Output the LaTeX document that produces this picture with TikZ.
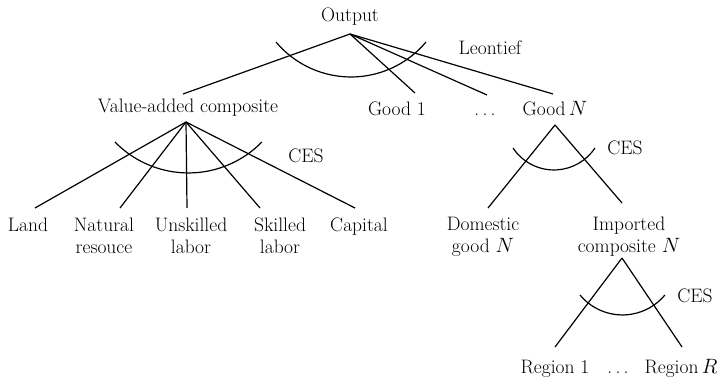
\documentclass[tikz,border=0pt]{standalone}
\begin{document}
\begin{tikzpicture}[x=1pt,y=-1pt,line width=1.2pt,
  lbl/.style={inner sep=0pt,anchor=base,font=\fontsize{19.5}{22}\selectfont},
  ml/.style={lbl,align=center}]
\useasboundingbox (0,0) rectangle (722,379);
% labels
\node[lbl] (out) at (350,22) {Output};
\node[lbl] (leo) at (490,55) {Leontief};
\node[lbl] (va) at (188,113) {Value-added composite};
\node[lbl] (g1) at (397,116) {Good 1};
\node[lbl] (gd) at (485,116) {.\,.\,.};
\node[lbl] (gn) at (555,116) {Good\,$N$};
\node[lbl] (ces1) at (306,163) {CES};
\node[lbl] (ces2) at (625,155) {CES};
\node[lbl] (ces3) at (695,302) {CES};
\node[lbl] (land) at (28,232) {Land};
\node[ml] (nat) at (104,254) {Natural\\resouce};
\node[ml] (unsk) at (191,254) {Unskilled\\labor};
\node[ml] (sk) at (280,254) {Skilled\\labor};
\node[lbl] (cap) at (359,232) {Capital};
\node[ml] (dom) at (483,252) {Domestic\\good $N$};
\node[ml] (imp) at (629,252) {Imported\\composite $N$};
\node[lbl] (r1) at (555,373) {Region 1};
\node[lbl] (rd) at (618,373) {.\,.\,.};
\node[lbl] (rr) at (681,373) {Region\,$R$};
% apexes and line ends
\coordinate (aout) at (350,34);
\coordinate (ava) at (186,122);
\coordinate (agn) at (555,125);
\coordinate (aimp) at (622,258);
\coordinate (eva) at (183,94);
\coordinate (eg1) at (415,93);
\coordinate (egd) at (487,95);
\coordinate (egn) at (553,94);
\coordinate (eland) at (35,208);
\coordinate (enat) at (120,208);
\coordinate (eunsk) at (187,208);
\coordinate (esk) at (260,208);
\coordinate (ecap) at (355,208);
\coordinate (edom) at (488,208);
\coordinate (eimp) at (622,203);
\coordinate (er1) at (555,347);
\coordinate (err) at (682,347);
% connectors
\foreach \e in {eva,eg1,egd,egn} \draw (aout) -- (\e);
\foreach \e in {eland,enat,eunsk,esk,ecap} \draw (ava) -- (\e);
\foreach \e in {edom,eimp} \draw (agn) -- (\e);
\foreach \e in {er1,err} \draw (aimp) -- (\e);
% arcs
\draw (276,42) arc[start angle=220,end angle=320,radius=97.9pt];
\draw (115,142) arc[start angle=224.3,end angle=315.7,radius=102.6pt];
\draw (513,148) arc[start angle=213.6,end angle=326.4,radius=49.2pt];
\draw (580,295) arc[start angle=219.7,end angle=320.3,radius=55.2pt];
\end{tikzpicture}
\end{document}
